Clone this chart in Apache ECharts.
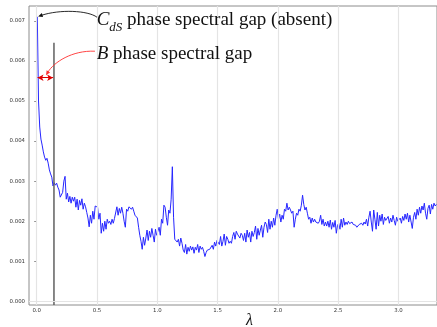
<!DOCTYPE html>
<html>
<head>
<meta charset="utf-8">
<script src="https://cdn.jsdelivr.net/npm/echarts@6/dist/echarts.min.js"></script>
<style>
  html, body { margin: 0; padding: 0; background: #fff; }
  #chart { width: 437px; height: 327px; }
</style>
</head>
<body>
<div id="chart"></div>
<script>
// Spectral gap versus lambda, sampled every 0.01 starting at 0.005 (values in units of 1e-3)
const lambdaStart = 0.005;
const lambdaStep = 0.01;
const gapMilli = [
  7.10, 5.00, 4.35, 4.05, 3.90, 3.73, 3.60, 3.52, 3.57, 3.45,
  3.28, 3.18, 3.10, 2.88, 2.96, 2.90, 2.95, 2.85, 2.78, 2.60,
  2.62, 2.72, 3.00, 3.12, 2.55, 2.70, 2.48, 2.62, 2.45, 2.60,
  2.50, 2.60, 2.35, 2.55, 2.28, 2.52, 2.40, 2.56, 2.30, 2.45,
  2.36, 2.22, 2.08, 1.86, 2.15, 1.95, 2.25, 2.05, 2.38, 2.40,
  2.35, 2.05, 2.20, 1.70, 1.95, 1.75, 2.00, 1.80, 2.05, 1.95,
  2.00, 1.92, 2.05, 1.95, 2.07, 2.10, 2.36, 2.15, 2.32, 2.20,
  2.35, 2.20, 2.00, 1.85, 2.30, 2.25, 2.36, 2.38, 2.30, 2.35,
  2.25, 2.15, 2.12, 2.08, 1.85, 1.65, 1.50, 1.30, 1.60, 1.40,
  1.58, 1.78, 1.52, 1.75, 1.60, 1.82, 1.65, 1.48, 1.80, 1.65,
  1.75, 1.85, 1.65, 2.05, 1.95, 2.40, 2.35, 2.10, 1.90, 2.28,
  2.20, 2.55, 3.36, 2.10, 1.55, 1.58, 1.48, 1.55, 1.38, 1.58,
  1.45, 1.28, 1.22, 1.42, 1.18, 1.35, 1.25, 1.38, 1.28, 1.36,
  1.20, 1.35, 1.28, 1.42, 1.22, 1.38, 1.30, 1.35, 1.25, 1.12,
  1.22, 1.28, 1.25, 1.30, 1.26, 1.40, 1.30, 1.48, 1.38, 1.52,
  1.55, 1.42, 1.62, 1.38, 1.50, 1.68, 1.40, 1.62, 1.55, 1.45,
  1.50, 1.45, 1.62, 1.72, 1.55, 1.75, 1.68, 1.72, 1.58, 1.70,
  1.65, 1.52, 1.70, 1.48, 1.78, 1.60, 1.72, 1.48, 1.75, 1.62,
  1.72, 1.88, 1.55, 1.82, 1.65, 1.78, 1.90, 1.60, 1.85, 1.98,
  1.92, 1.72, 2.05, 1.80, 2.00, 1.85, 2.08, 1.90, 2.15, 2.30,
  2.05, 2.18, 1.98, 2.15, 2.05, 2.30, 2.25, 2.45, 2.28, 2.35,
  2.28, 2.20, 2.25, 1.85, 2.05, 2.20, 2.15, 2.30, 2.25, 2.40,
  2.65, 2.42, 2.28, 2.35, 2.20, 2.05, 2.10, 1.95, 2.08, 1.98,
  2.05, 1.98, 2.02, 1.95, 2.00, 2.15, 1.92, 2.05, 1.88, 1.98,
  1.88, 2.00, 1.85, 2.03, 1.80, 1.97, 1.85, 2.02, 1.70, 1.90,
  1.95, 1.80, 2.05, 1.85, 2.08, 1.90, 1.98, 1.92, 2.00, 1.94,
  1.95, 1.98, 1.92, 1.96, 1.90, 1.85, 1.83, 1.92, 1.88, 1.95,
  1.90, 1.98, 1.93, 2.05, 1.88, 2.10, 2.25, 1.98, 1.75, 2.28,
  2.05, 1.80, 2.22, 1.88, 2.15, 2.00, 2.18, 1.92, 2.10, 2.02,
  2.05, 2.12, 1.95, 2.08, 1.98, 2.15, 2.02, 1.90, 2.10, 2.00,
  2.00, 2.08, 1.95, 2.12, 2.02, 2.18, 2.05, 2.20, 1.98, 2.15,
  2.18, 1.82, 2.10, 2.22, 2.05, 2.30, 2.15, 2.35, 2.20, 2.38,
  2.28, 2.45, 2.20, 2.05, 2.32, 2.40, 2.18, 2.42, 2.30, 2.45, 2.38, 2.42
];

const xTicks = [0.0, 0.5, 1.0, 1.5, 2.0, 2.5, 3.0];
const yTicks = [0.000, 0.001, 0.002, 0.003, 0.004, 0.005, 0.006, 0.007];
const xRange = [-0.064, 3.32];
const yRange = [-0.00009, 0.00737];

// B phase gap marker
const bGapLambda = 0.143;
const bGapLineTop = 0.00645;
const gapArrowLevel = 0.00558;
const gapArrowSpan = [0.007, 0.136];

// Annotation anchors and curved arrow paths (data coordinates: start, control 1, control 2, tip)
const cdsTextAt = [0.497, 0.00702];
const bTextAt = [0.497, 0.00617];
const cdsArrowPath = [[0.5, 0.00709], [0.425, 0.00726], [0.193, 0.00729], [0.012, 0.00711]];
const bArrowPath = [[0.483, 0.006242], [0.293, 0.006267], [0.143, 0.005968], [0.077, 0.005643]];

const gapSeries = gapMilli.map((v, i) => [lambdaStart + i * lambdaStep, v / 1000]);

const gridColor = '#e4e4e4';
const spineColor = '#8c8c8c';
const tickFont = { fontFamily: 'DejaVu Sans', fontSize: 5.4, color: '#333' };

const chart = echarts.init(document.getElementById('chart'), null, { renderer: 'canvas' });

chart.setOption({
  animation: false,
  backgroundColor: '#fff',
  grid: {
    left: 29, right: -1, top: 6, bottom: 22,
    show: true, borderColor: spineColor, borderWidth: 1, backgroundColor: 'transparent'
  },
  xAxis: {
    type: 'value', min: xRange[0], max: xRange[1],
    axisLine: { show: false },
    splitLine: { show: false },
    axisTick: { show: true, customValues: xTicks, length: 2.5, lineStyle: { color: spineColor } },
    axisLabel: {
      customValues: xTicks, margin: 3,
      formatter: v => v.toFixed(1), ...tickFont
    }
  },
  yAxis: {
    type: 'value', min: yRange[0], max: yRange[1],
    axisLine: { show: false },
    splitLine: { show: false },
    axisTick: { show: true, customValues: yTicks, length: 2.5, lineStyle: { color: spineColor } },
    axisLabel: {
      customValues: yTicks, margin: 4,
      formatter: v => v.toFixed(3), ...tickFont
    }
  },
  series: [
    {
      // grid lines
      type: 'line', data: [], silent: true, z: 1,
      markLine: {
        silent: true, symbol: 'none', animation: false,
        label: { show: false },
        lineStyle: { color: gridColor, width: 1.2, type: 'solid' },
        data: [
          ...xTicks.map(v => ({ xAxis: v })),
          ...yTicks.map(v => ({ yAxis: v }))
        ]
      }
    },
    {
      name: 'gap', type: 'line', data: gapSeries, z: 3,
      showSymbol: false, symbol: 'none',
      lineStyle: { color: '#2626ff', width: 1 },
      clip: true
    },
    {
      // B phase marker line and the gap span arrow
      type: 'line', z: 4, showSymbol: false, symbol: 'none',
      data: [[bGapLambda, yRange[0]], [bGapLambda, bGapLineTop]],
      lineStyle: { color: '#606060', width: 1.5 },
      markLine: {
        silent: true, animation: false,
        label: { show: false },
        data: [
          [
            { coord: [gapArrowSpan[0], gapArrowLevel], symbol: 'arrow', symbolSize: [5, 6] },
            { coord: [gapArrowSpan[1], gapArrowLevel], symbol: 'arrow', symbolSize: [5, 6],
              lineStyle: { color: '#e00000', width: 1, type: 'solid' } }
          ]
        ]
      }
    }
  ]
});

const toPx = p => chart.convertToPixel({ seriesIndex: 1 }, p);

// Curved annotation arrow: cubic bezier plus a filled head at the tip
function curvedArrow(path, color, width, headLen, headHalf) {
  const [p0, c1, c2, p3] = path.map(toPx);
  const dx = p3[0] - c2[0], dy = p3[1] - c2[1];
  const len = Math.hypot(dx, dy);
  const ux = dx / len, uy = dy / len;
  const bx = p3[0] - ux * headLen, by = p3[1] - uy * headLen;
  return [
    {
      type: 'bezierCurve', z: 9, silent: true,
      shape: { x1: p0[0], y1: p0[1], cpx1: c1[0], cpy1: c1[1], cpx2: c2[0], cpy2: c2[1],
               x2: bx + ux * 1, y2: by + uy * 1 },
      style: { stroke: color, lineWidth: width, fill: null }
    },
    {
      type: 'polygon', z: 9, silent: true,
      shape: { points: [p3, [bx - uy * headHalf, by + ux * headHalf], [bx + uy * headHalf, by - ux * headHalf]] },
      style: { fill: color, stroke: null }
    }
  ];
}

const cdsPx = toPx(cdsTextAt);
const bPx = toPx(bTextAt);
const serif = 'Liberation Serif';

chart.setOption({
  graphic: [
    ...curvedArrow(cdsArrowPath, '#111', 0.9, 4.5, 2),
    ...curvedArrow(bArrowPath, '#ff3030', 0.9, 4.5, 2),
    {
      type: 'text', x: cdsPx[0], y: cdsPx[1], z: 10,
      style: {
        text: '{i|C}{s|dS}{n| phase spectral gap (absent)}',
        verticalAlign: 'middle', align: 'left',
        rich: {
          i: { fontFamily: serif, fontStyle: 'italic', fontSize: 19, fill: '#111', lineHeight: 20 },
          s: { fontFamily: serif, fontStyle: 'italic', fontSize: 13, fill: '#111', verticalAlign: 'bottom', lineHeight: 20, padding: [0, 0, -4, 0] },
          n: { fontFamily: serif, fontSize: 19, fill: '#111', lineHeight: 20 }
        }
      }
    },
    {
      type: 'text', x: bPx[0], y: bPx[1], z: 10,
      style: {
        text: '{i|B}{n| phase spectral gap}',
        verticalAlign: 'middle', align: 'left',
        rich: {
          i: { fontFamily: serif, fontStyle: 'italic', fontSize: 19, fill: '#111' },
          n: { fontFamily: serif, fontSize: 19, fill: '#111' }
        }
      }
    },
    {
      type: 'text', left: 246, top: 313, z: 10,
      style: { text: 'λ', fontFamily: serif, fontStyle: 'italic', fontSize: 16, fill: '#111' }
    }
  ]
});
</script>
</body>
</html>
